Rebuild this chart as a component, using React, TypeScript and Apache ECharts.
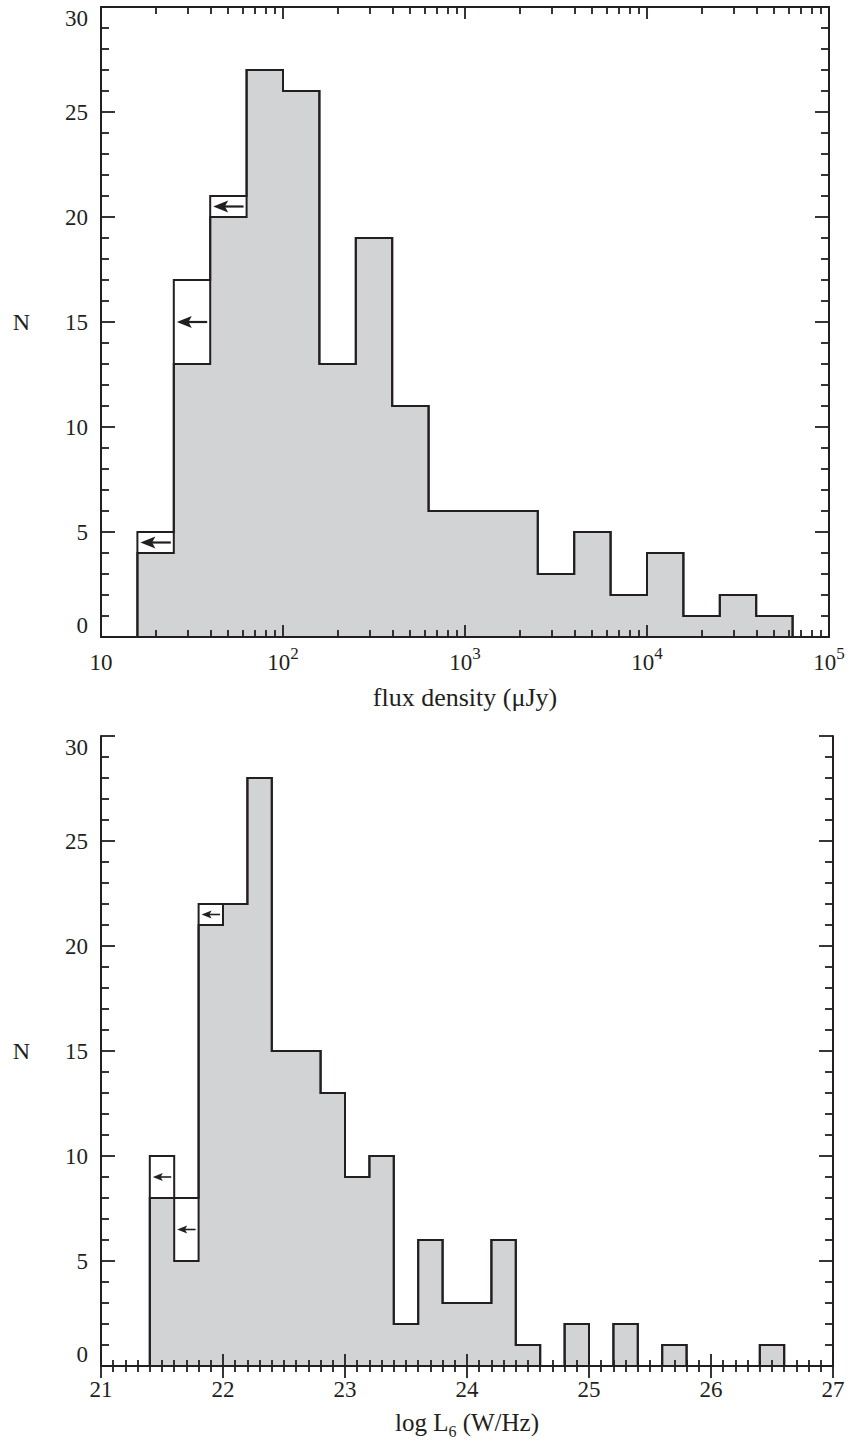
import React, { useEffect, useRef } from 'react';
import * as echarts from 'echarts';

// ---------- data ----------
// upper panel: bins in log10(flux density / µJy)
const fluxBinStartsLog = [1.2, 1.4, 1.6, 1.8, 2.0, 2.2, 2.4, 2.6, 2.8, 3.0, 3.2, 3.4, 3.6, 3.8, 4.0, 4.2, 4.4, 4.6];
const fluxBinWidthLog = 0.2;
const fluxDetected = [4, 13, 20, 27, 26, 13, 19, 11, 6, 6, 6, 3, 5, 2, 4, 1, 2, 1];
const fluxTotal = [5, 17, 21, 27, 26, 13, 19, 11, 6, 6, 6, 3, 5, 2, 4, 1, 2, 1];

// lower panel: bins in log L6 (W/Hz)
const lumBinStarts = [21.4, 21.6, 21.8, 22.0, 22.2, 22.4, 22.6, 22.8, 23.0, 23.2, 23.4, 23.6, 23.8, 24.0, 24.2, 24.4, 24.6, 24.8, 25.0, 25.2, 25.4, 25.6, 25.8, 26.0, 26.2, 26.4];
const lumBinWidth = 0.2;
const lumDetected = [8, 5, 21, 22, 28, 15, 15, 13, 9, 10, 2, 6, 3, 3, 6, 1, 0, 2, 0, 2, 0, 1, 0, 0, 0, 1];
const lumTotal = [10, 8, 22, 22, 28, 15, 15, 13, 9, 10, 2, 6, 3, 3, 6, 1, 0, 2, 0, 2, 0, 1, 0, 0, 0, 1];

// axes
const fluxAxisMin = 10;
const fluxAxisMax = 100000;
const fluxMinorMultipliers = [2, 3, 4, 5, 6, 7, 8, 9];
const fluxDecades = [10, 100, 1000, 10000];
const lumAxisMin = 21;
const lumAxisMax = 27;
const countMin = 0;
const countMax = 30;
const countInterval = 5;

const INK = '#231f20';
const FILL = '#d1d3d4';
const FONT = '"Liberation Serif", "Times New Roman", serif';

function stepPoints(starts: number[], ends: number[], vals: number[]) {
  const pts: number[][] = [[starts[0], 0]];
  vals.forEach((v, i) => {
    pts.push([starts[i], v]);
    pts.push([ends[i], v]);
  });
  pts.push([ends[ends.length - 1], 0]);
  return pts;
}

function arrowRenderer(inset: number, headLen: number, halfH: number, lw: number) {
  return (params: any, api: any) => {
    const x0 = api.value(0);
    const x1 = api.value(1);
    const lo = api.value(2);
    const hi = api.value(3);
    const mid = (lo + hi) / 2;
    const pL = api.coord([x0, mid]);
    const pR = api.coord([x1, mid]);
    const tip = pL[0] + inset;
    const tail = pR[0] - inset;
    const y = pL[1];
    return {
      type: 'group',
      children: [
        { type: 'line', shape: { x1: tip + headLen * 0.7, y1: y, x2: tail, y2: y }, style: { stroke: INK, lineWidth: lw } },
        {
          type: 'polygon',
          shape: { points: [[tip, y], [tip + headLen, y - halfH], [tip + headLen * 0.78, y], [tip + headLen, y + halfH]] },
          style: { fill: INK },
        },
      ],
    };
  };
}

export default function App() {
  const ref = useRef<HTMLDivElement>(null);
  useEffect(() => {
    if (!ref.current) return;
    const chart = echarts.init(ref.current, null, { renderer: 'svg' });

    const fluxStarts = fluxBinStartsLog.map((e) => Math.pow(10, e));
    const fluxEnds = fluxBinStartsLog.map((e) => Math.pow(10, e + fluxBinWidthLog));
    const lumEnds = lumBinStarts.map((s) => s + lumBinWidth);

    const fluxLimits = fluxStarts
      .map((s, i) => [s, fluxEnds[i], fluxDetected[i], fluxTotal[i]])
      .filter((d) => d[3] > d[2]);
    const lumLimits = lumBinStarts
      .map((s, i) => [s, lumEnds[i], lumDetected[i], lumTotal[i]])
      .filter((d) => d[3] > d[2]);

    const fluxMinorTicks: number[] = [];
    fluxDecades.forEach((d) => fluxMinorMultipliers.forEach((m) => fluxMinorTicks.push(m * d)));

    const line = { color: INK, width: 2 };
    const tickLine = { color: INK, width: 1.8 };

    const yAxisBase = (gridIndex: number, position: string, labels: boolean) => ({
      type: 'value',
      gridIndex,
      position,
      min: countMin,
      max: countMax,
      interval: countInterval,
      z: 10,
      axisLine: { show: true, lineStyle: line },
      axisTick: { show: true, inside: true, length: 14, lineStyle: tickLine },
      minorTick: { show: true, splitNumber: 5, length: 8, lineStyle: tickLine },
      splitLine: { show: false },
      minorSplitLine: { show: false },
      axisLabel: labels
        ? {
            show: true,
            margin: 13,
            fontSize: 23,
            fontFamily: FONT,
            color: INK,
            verticalAlignMinLabel: 'bottom',
            verticalAlignMaxLabel: 'top',
          }
        : { show: false },
      ...(labels
        ? {
            name: 'N',
            nameLocation: 'middle',
            nameRotate: 0,
            nameGap: 71,
            nameTextStyle: { fontSize: 24, fontFamily: FONT, color: INK },
          }
        : {}),
    });

    const logAxis = (position: string, minor: boolean, labels: boolean) => ({
      type: 'log',
      logBase: 10,
      gridIndex: 0,
      position,
      min: fluxAxisMin,
      max: fluxAxisMax,
      z: 10,
      axisLine: { show: !minor, lineStyle: line },
      axisTick: minor
        ? { show: true, inside: true, length: 7, lineStyle: tickLine, customValues: fluxMinorTicks }
        : { show: true, inside: true, length: 12, lineStyle: tickLine },
      splitLine: { show: false },
      axisLabel: labels
        ? {
            show: true,
            margin: 8,
            formatter: (v: number) => {
              const n = Math.round(Math.log10(v));
              return n === 1 ? '{b|10}' : '{b|10}{s|' + n + '}';
            },
            rich: {
              b: { fontSize: 23, lineHeight: 34, fontFamily: FONT, color: INK, verticalAlign: 'middle' },
              s: { fontSize: 17, lineHeight: 16, fontFamily: FONT, color: INK, verticalAlign: 'top' },
            },
          }
        : { show: false },
      ...(labels
        ? {
            name: 'flux density (μJy)',
            nameLocation: 'middle',
            nameGap: 47,
            nameTextStyle: { fontSize: 26, fontFamily: FONT, color: INK },
          }
        : {}),
    });

    const linAxis = (position: string, labels: boolean) => ({
      type: 'value',
      gridIndex: 1,
      position,
      min: lumAxisMin,
      max: lumAxisMax,
      interval: 1,
      z: 10,
      axisLine: { show: true, lineStyle: line },
      axisTick: { show: true, inside: true, length: 12, lineStyle: tickLine },
      minorTick: { show: true, splitNumber: 10, length: 6, lineStyle: tickLine },
      splitLine: { show: false },
      minorSplitLine: { show: false },
      axisLabel: labels
        ? { show: true, margin: 12, fontSize: 23, fontFamily: FONT, color: INK }
        : { show: false },
      ...(labels
        ? {
            name: '{a|log L}{s|6}{a| (W/Hz)}',
            nameLocation: 'middle',
            nameGap: 44,
            nameTextStyle: {
              fontFamily: FONT,
              color: INK,
              rich: {
                a: { fontSize: 25, lineHeight: 26, fontFamily: FONT, color: INK, verticalAlign: 'top' },
                s: { fontSize: 16, lineHeight: 42, fontFamily: FONT, color: INK, verticalAlign: 'middle' },
              },
            },
          }
        : {}),
    });

    const option: any = {
      animation: false,
      backgroundColor: '#ffffff',
      grid: [
        { left: 101, right: 20, top: 7, height: 630, outerBoundsMode: 'none' },
        { left: 101, right: 16, top: 736, height: 630, outerBoundsMode: 'none' },
      ],
      xAxis: [
        logAxis('bottom', false, true),
        logAxis('bottom', true, false),
        logAxis('top', false, false),
        logAxis('top', true, false),
        linAxis('bottom', true),
        linAxis('top', false),
      ],
      yAxis: [
        yAxisBase(0, 'left', true),
        yAxisBase(0, 'right', false),
        yAxisBase(1, 'left', true),
        yAxisBase(1, 'right', false),
      ],
      series: [
        {
          type: 'line',
          xAxisIndex: 0,
          yAxisIndex: 0,
          data: stepPoints(fluxStarts, fluxEnds, fluxDetected),
          symbol: 'none',
          silent: true,
          lineStyle: { color: INK, width: 2, join: 'miter' },
          areaStyle: { color: FILL, opacity: 1 },
          z: 2,
        },
        {
          type: 'line',
          xAxisIndex: 0,
          yAxisIndex: 0,
          data: stepPoints(fluxStarts, fluxEnds, fluxTotal),
          symbol: 'none',
          silent: true,
          lineStyle: { color: INK, width: 2, join: 'miter' },
          z: 3,
        },
        {
          type: 'custom',
          xAxisIndex: 0,
          yAxisIndex: 0,
          data: fluxLimits,
          encode: { x: [0, 1], y: [2, 3] },
          renderItem: arrowRenderer(3, 15, 6, 2.2),
          silent: true,
          z: 4,
        },
        {
          type: 'line',
          xAxisIndex: 4,
          yAxisIndex: 2,
          data: stepPoints(lumBinStarts, lumEnds, lumDetected),
          symbol: 'none',
          silent: true,
          lineStyle: { color: INK, width: 2, join: 'miter' },
          areaStyle: { color: FILL, opacity: 1 },
          z: 2,
        },
        {
          type: 'line',
          xAxisIndex: 4,
          yAxisIndex: 2,
          data: stepPoints(lumBinStarts, lumEnds, lumTotal),
          symbol: 'none',
          silent: true,
          lineStyle: { color: INK, width: 2, join: 'miter' },
          z: 3,
        },
        {
          type: 'custom',
          xAxisIndex: 4,
          yAxisIndex: 2,
          data: lumLimits,
          encode: { x: [0, 1], y: [2, 3] },
          renderItem: arrowRenderer(3, 10, 4, 1.6),
          silent: true,
          z: 4,
        },
      ],
    };
    chart.setOption(option);
    return () => chart.dispose();
  }, []);

  return (
    <div
      ref={ref}
      style={{ position: 'absolute', left: 0, top: 0, width: 849, height: 1442, background: '#fff' }}
    />
  );
}
